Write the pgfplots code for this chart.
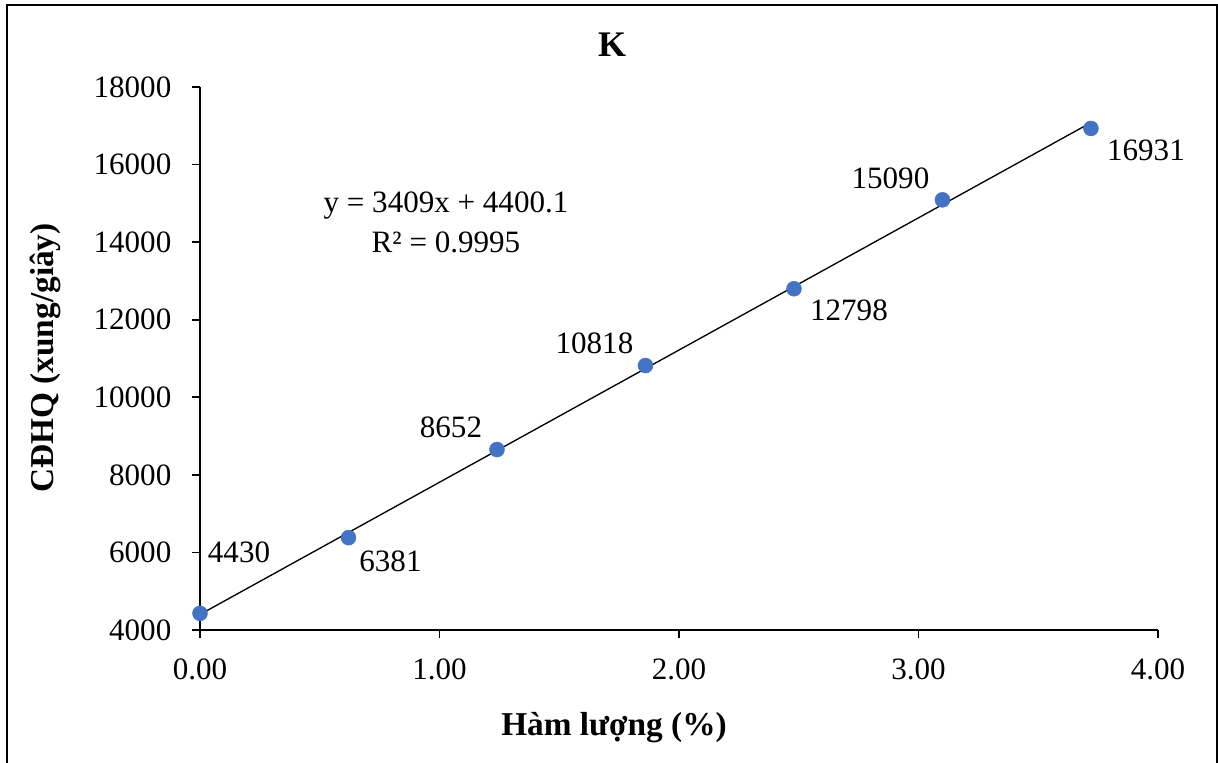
\documentclass[border=0pt]{standalone}
\usepackage{pgfplots}
\pgfplotsset{compat=1.18}
\usepackage{fontspec}
\setmainfont{Liberation Serif}

\definecolor{markblue}{HTML}{4472C4}

\newcommand{\lblfont}{\fontsize{23.3}{28}\selectfont}

\begin{document}
\begin{tikzpicture}[x=0.75pt,y=0.75pt]
  \path[use as bounding box] (0,0) rectangle (1218,763);
  % chart border
  \draw[line width=1.4pt] (7,-2) -- (7,758) -- (1217,758) -- (1217,-2);

  \begin{axis}[
    at={(150pt,99.75pt)}, anchor=south west,
    scale only axis, width=718.5pt, height=407.25pt,
    xmin=0, xmax=4, ymin=4000, ymax=18000,
    xtick={0,1,2,3,4}, ytick={4000,6000,...,18000},
    scaled ticks=false,
    axis x line=bottom, axis y line=left,
    axis line style={-, line width=1.2pt, black},
    tick style={line width=1.2pt, black},
    tick align=outside, major tick length=6pt,
    xticklabel style={font=\lblfont, yshift=-12pt,
      /pgf/number format/fixed, /pgf/number format/fixed zerofill,
      /pgf/number format/precision=2, /pgf/number format/assume math mode=true},
    yticklabel style={font=\lblfont, xshift=-12pt,
      /pgf/number format/fixed, /pgf/number format/1000 sep={},
      /pgf/number format/assume math mode=true},
    clip=false,
  ]
    % linear trend line y = 3409x + 4400.1
    \addplot[black, line width=1pt] coordinates {(0,4400.1) (3.72,17081.6)};

    % calibration points with per-label offsets (px)
    \addplot[only marks, mark=*, mark size=5.6pt,
      mark options={fill=markblue, draw=markblue},
      point meta=explicit,
      visualization depends on={\thisrow{dx} \as \dx},
      visualization depends on={\thisrow{dy} \as \dy},
      nodes near coords={\pgfmathprintnumber[fixed,precision=0,1000 sep={},assume math mode=true]{\pgfplotspointmeta}},
      nodes near coords style={font=\lblfont, anchor=center, inner sep=0pt,
        xshift={\dx*0.75pt}, yshift={\dy*0.75pt}},
    ] table[x=x, y=y, meta=y] {
      x     y      dx   dy
      0.00  4430   39   61
      0.62  6381   42  -24
      1.24  8652  -46   22
      1.86  10818 -51   22
      2.48  12798  55  -22
      3.10  15090 -52   22
      3.72  16931  55  -22
    };
  \end{axis}

  % title, axis titles and trend line equation
  \node[font=\fontsize{27}{32}\selectfont\bfseries] at (612,718) {K};
  \node[font=\fontsize{25}{30}\selectfont\bfseries] at (614,35) {Hàm lượng (\%)};
  \node[font=\fontsize{25}{30}\selectfont\bfseries, rotate=90] at (45,405) {CĐHQ (xung/giây)};
  \node[font=\lblfont, align=center] at (446,541) {y = 3409x + 4400.1\\[2pt]R² = 0.9995};
\end{tikzpicture}
\end{document}
